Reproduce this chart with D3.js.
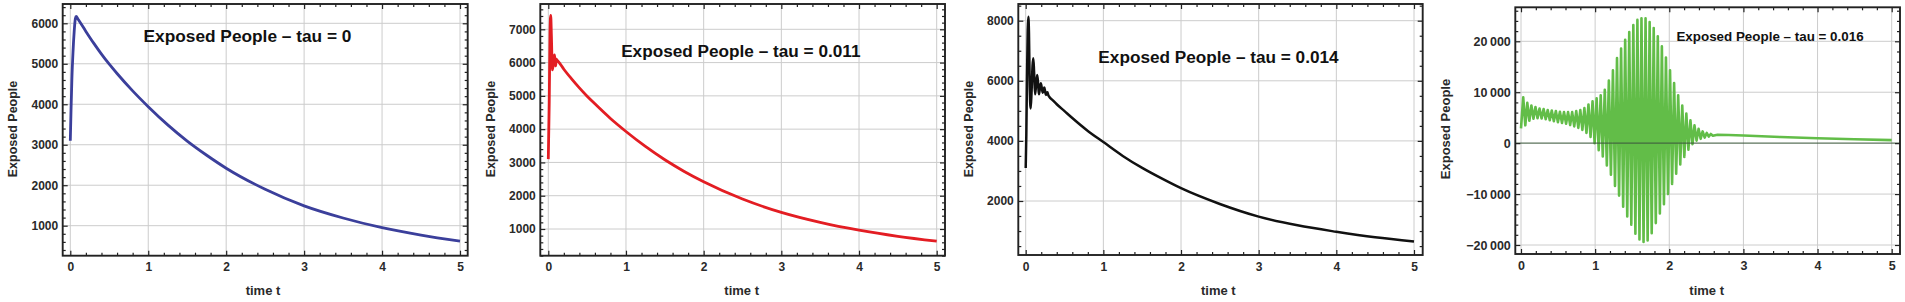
<!DOCTYPE html>
<html><head><meta charset="utf-8">
<script src="https://cdn.jsdelivr.net/npm/d3@7"></script>
<style>body{margin:0;background:#fff}svg{display:block}text{font-family:"Liberation Sans",Arial,sans-serif}</style>
</head><body><svg id="chart" width="1905" height="302"></svg>
<script>
// ---------- data ----------
const panelTitles = ["Exposed People \u2013 tau = 0", "Exposed People \u2013 tau = 0.011", "Exposed People \u2013 tau = 0.014", "Exposed People \u2013 tau = 0.016"];
const xAxisTitle = "time t";
const yAxisTitle = "Exposed People";
const xTickValues = [0, 1, 2, 3, 4, 5];
const yTicksTau0 = [1000, 2000, 3000, 4000, 5000, 6000];
const yTicksTau011 = [1000, 2000, 3000, 4000, 5000, 6000, 7000];
const yTicksTau014 = [2000, 4000, 6000, 8000];
const yTicksTau016 = [-20000, -10000, 0, 10000, 20000];

const tau0Time  = [0, 0.01, 0.02, 0.035, 0.05, 0.065, 0.075, 0.1, 0.2, 0.3, 0.4, 0.5, 0.6, 0.8, 1.0, 1.25, 1.5, 1.75, 2.0, 2.5, 3.0, 3.5, 4.0, 4.5, 5.0];
const tau0Value = [3100, 3900, 4600, 5300, 5800, 6120, 6170, 6100, 5800, 5510, 5240, 4990, 4760, 4330, 3940, 3490, 3090, 2740, 2420, 1900, 1490, 1190, 950, 770, 620];

const tau011Time  = [0, 0.012, 0.022, 0.031, 0.04, 0.052, 0.062, 0.072, 0.08, 0.088, 0.095, 0.102, 0.11, 0.13, 0.2, 0.3, 0.4, 0.5, 0.6, 0.8, 1.0, 1.25, 1.5, 1.75, 2.0, 2.5, 3.0, 3.5, 4.0, 4.5, 5.0];
const tau011Value = [3100, 4800, 6900, 7420, 6800, 5780, 5900, 6150, 6230, 6000, 5900, 6100, 6080, 6030, 5800, 5510, 5240, 4990, 4760, 4320, 3930, 3480, 3080, 2730, 2420, 1900, 1500, 1200, 965, 780, 635];

const tau014Time  = [0, 0.008, 0.016, 0.026, 0.034, 0.042, 0.052, 0.064, 0.075, 0.088, 0.098, 0.108, 0.12, 0.134, 0.148, 0.16, 0.17, 0.183, 0.195, 0.208, 0.22, 0.23, 0.24, 0.25, 0.26, 0.27, 0.28, 0.29, 0.3, 0.35, 0.4, 0.5, 0.6, 0.8, 1.0, 1.25, 1.5, 1.75, 2.0, 2.5, 3.0, 3.5, 4.0, 4.5, 5.0];
const tau014Value = [3100, 4200, 6000, 7700, 8130, 7600, 5800, 5080, 5600, 6500, 6750, 6300, 5550, 5850, 6190, 5900, 5550, 5750, 5920, 5750, 5600, 5700, 5780, 5650, 5530, 5580, 5620, 5530, 5480, 5350, 5220, 4990, 4760, 4330, 3960, 3500, 3100, 2750, 2425, 1900, 1480, 1190, 975, 790, 650];

const tau016Time = [0, 0.03, 0.058, 0.085, 0.113, 0.14, 0.168, 0.195, 0.223, 0.25, 0.278, 0.305, 0.333, 0.36, 0.388, 0.415, 0.443, 0.47, 0.498, 0.525, 0.553, 0.58, 0.608, 0.635, 0.663, 0.69, 0.718, 0.745, 0.773, 0.80, 0.828, 0.855, 0.883, 0.91, 0.938, 0.965, 0.993, 1.02, 1.048, 1.075, 1.103, 1.13, 1.158, 1.185, 1.213, 1.24, 1.268, 1.295, 1.323, 1.35, 1.378, 1.405, 1.433, 1.46, 1.488, 1.515, 1.543, 1.57, 1.598, 1.625, 1.653, 1.68, 1.708, 1.735, 1.763, 1.79, 1.818, 1.845, 1.873, 1.90, 1.928, 1.955, 1.983, 2.01, 2.038, 2.065, 2.093, 2.12, 2.148, 2.175, 2.203, 2.23, 2.258, 2.285, 2.313, 2.34, 2.368, 2.395, 2.423, 2.45, 2.478, 2.505, 2.533, 2.56, 2.588, 2.65, 2.8, 3.0, 3.5, 4.0, 4.5, 5.0];
const tau016Value = [2900, 9000, 3500, 7900, 4400, 7400, 4800, 7100, 4900, 6800, 4850, 6700, 4700, 6500, 4500, 6400, 4300, 6300, 4100, 6150, 3950, 6100, 3800, 6100, 3550, 6100, 3300, 6300, 3000, 6500, 2600, 6900, 2000, 7600, 1200, 8200, 0, 8800, -1400, 9400, -2600, 10500, -4400, 12300, -6200, 14300, -8400, 16700, -10300, 18600, -12500, 20300, -14400, 21800, -16000, 23200, -17800, 24200, -18900, 24500, -19400, 24500, -19100, 23800, -17700, 22600, -15700, 21000, -13800, 19000, -12000, 16800, -10000, 14300, -8000, 11800, -6000, 9400, -4200, 7400, -2700, 5800, -1300, 4500, -200, 3500, 500, 2800, 850, 2300, 1100, 2000, 1300, 1800, 1450, 1650, 1600, 1500, 1200, 950, 760, 600];

// ---------- layout ----------
const panels = [
  {time: tau0Time, value: tau0Value, yTicks: yTicksTau0, yMinor: 200, color: "#3b3f9b", lw: 2.8,
   xr: [70.3, 460], yd: [1000, 6000], yr: [225.7, 23.3], frame: [62.7, 4, 467.7, 255.7],
   title: [247.5, 42.3, 17.3], xt: 263, yt: 12.5, fmt: d3.format("d"), tickFont: 12},
  {time: tau011Time, value: tau011Value, yTicks: yTicksTau011, yMinor: 200, color: "#e31d23", lw: 2.8,
   xr: [548.3, 936.7], yd: [1000, 7000], yr: [229, 29.3], frame: [540.3, 4, 945, 255.7],
   title: [740.8, 57.3, 17.2], xt: 741.7, yt: 490.5, fmt: d3.format("d"), tickFont: 12},
  {time: tau014Time, value: tau014Value, yTicks: yTicksTau014, yMinor: 500, color: "#111111", lw: 2.5,
   xr: [1025.7, 1414], yd: [2000, 8000], yr: [201, 20.7], frame: [1018.3, 4, 1422.7, 255],
   title: [1218.5, 63.3, 17.2], xt: 1218.3, yt: 968.8, fmt: d3.format("d"), tickFont: 12},
  {time: tau016Time, value: tau016Value, yTicks: yTicksTau016, yMinor: 2000, color: "#62bd48", lw: 2.6,
   xr: [1521, 1891.7], yd: [-20000, 20000], yr: [245, 41.3], frame: [1515.3, 7.3, 1900, 254],
   title: [1770, 41, 13.4], xt: 1706.7, yt: 1445.5, zeroAxis: true,
   fmt: v => (v < 0 ? "\u2212" : "") + d3.format(",")(Math.abs(v)).replace(",", "\u2009"), tickFont: 12.5}
];

const svg = d3.select("#chart");
svg.append("rect").attr("width", 1905).attr("height", 302).attr("fill", "#fff");

panels.forEach((p, i) => {
  const [L, T, R, B] = p.frame;
  const x = d3.scaleLinear().domain([0, 5]).range(p.xr);
  const y = d3.scaleLinear().domain(p.yd).range(p.yr);
  const g = svg.append("g");
  const clipId = "clip" + i;
  g.append("clipPath").attr("id", clipId).append("rect")
    .attr("x", L).attr("y", T).attr("width", R - L).attr("height", B - T);

  // grid
  g.append("g").selectAll("line").data(xTickValues).join("line")
    .attr("x1", d => x(d)).attr("x2", d => x(d)).attr("y1", T).attr("y2", B)
    .attr("stroke", "#cccccc").attr("stroke-width", 1);
  g.append("g").selectAll("line").data(p.yTicks.filter(v => !(p.zeroAxis && v === 0))).join("line")
    .attr("x1", L).attr("x2", R).attr("y1", d => y(d)).attr("y2", d => y(d))
    .attr("stroke", "#cccccc").attr("stroke-width", 1);

  // curve
  const line = d3.line().x(d => x(d[0])).y(d => y(d[1]))
    .curve(p.zeroAxis ? d3.curveLinear : d3.curveMonotoneX);
  const pts = p.time.map((t, k) => [t, p.value[k]]);
  g.append("path").datum(pts).attr("d", line).attr("fill", "none")
    .attr("stroke", p.color).attr("stroke-width", p.lw).attr("stroke-linejoin", "round")
    .attr("clip-path", `url(#${clipId})`);

  if (p.zeroAxis) {
    g.append("line").attr("x1", L).attr("x2", R).attr("y1", y(0)).attr("y2", y(0))
      .attr("stroke", "#3d5a3d").attr("stroke-opacity", 0.85).attr("stroke-width", 1.4);
  }

  // minor tick values
  const xLo = x.invert(L), xHi = x.invert(R);
  const xMinor = d3.range(Math.ceil(xLo / 0.2) * 0.2, xHi, 0.2)
    .filter(v => Math.abs(v - Math.round(v)) > 1e-6);
  const yLo = Math.min(y.invert(B), y.invert(T)), yHi = Math.max(y.invert(B), y.invert(T));
  const yMinor = d3.range(Math.ceil(yLo / p.yMinor) * p.yMinor, yHi, p.yMinor)
    .filter(v => !p.yTicks.includes(v) && (v % (p.yTicks[1] - p.yTicks[0]) !== 0));

  const tickStyle = sel => {
    sel.select(".domain").remove();
    sel.selectAll("line").attr("stroke", "#222").attr("stroke-width", 1.2);
    sel.selectAll("text").remove();
  };
  g.append("g").attr("transform", `translate(0,${B})`)
    .call(d3.axisBottom(x).tickValues(xTickValues).tickSize(-5)).call(tickStyle);
  g.append("g").attr("transform", `translate(0,${B})`)
    .call(d3.axisBottom(x).tickValues(xMinor).tickSize(-3)).call(tickStyle);
  g.append("g").attr("transform", `translate(0,${T})`)
    .call(d3.axisTop(x).tickValues(xTickValues).tickSize(-5)).call(tickStyle);
  g.append("g").attr("transform", `translate(0,${T})`)
    .call(d3.axisTop(x).tickValues(xMinor).tickSize(-3)).call(tickStyle);
  g.append("g").attr("transform", `translate(${L},0)`)
    .call(d3.axisLeft(y).tickValues(p.yTicks).tickSize(-5)).call(tickStyle);
  g.append("g").attr("transform", `translate(${L},0)`)
    .call(d3.axisLeft(y).tickValues(yMinor).tickSize(-3)).call(tickStyle);
  g.append("g").attr("transform", `translate(${R},0)`)
    .call(d3.axisRight(y).tickValues(p.yTicks).tickSize(-5)).call(tickStyle);
  g.append("g").attr("transform", `translate(${R},0)`)
    .call(d3.axisRight(y).tickValues(yMinor).tickSize(-3)).call(tickStyle);

  // frame
  g.append("rect").attr("x", L).attr("y", T).attr("width", R - L).attr("height", B - T)
    .attr("fill", "none").attr("stroke", "#222").attr("stroke-width", 1.9);

  // tick labels
  const labStyle = sel => {
    sel.select(".domain").remove();
    sel.selectAll("line").remove();
    sel.selectAll("text").attr("font-size", p.tickFont).attr("font-weight", "bold")
      .attr("fill", "#2a2a2a").attr("font-family", "'Liberation Sans', Arial, sans-serif");
  };
  g.append("g").attr("transform", `translate(0,${B})`)
    .call(d3.axisBottom(x).tickValues(xTickValues).tickFormat(d3.format("d")).tickSize(0).tickPadding(7))
    .call(labStyle);
  g.append("g").attr("transform", `translate(${L},0)`)
    .call(d3.axisLeft(y).tickValues(p.yTicks).tickFormat(p.fmt).tickSize(0).tickPadding(4.5))
    .call(labStyle);

  // axis titles
  g.append("text").attr("x", p.xt).attr("y", 295.3).attr("text-anchor", "middle")
    .attr("font-size", 13).attr("font-weight", "bold").attr("fill", "#2a2a2a").text(xAxisTitle);
  g.append("text").attr("transform", `translate(${p.yt + 4.5},129) rotate(-90)`)
    .attr("text-anchor", "middle").attr("font-size", p.zeroAxis ? 13 : 12.5)
    .attr("font-weight", "bold").attr("fill", "#2a2a2a").text(yAxisTitle);

  // panel title
  g.append("text").attr("x", p.title[0]).attr("y", p.title[1]).attr("text-anchor", "middle")
    .attr("font-size", p.title[2]).attr("font-weight", "bold").attr("fill", "#111").text(panelTitles[i]);
});
</script></body></html>
